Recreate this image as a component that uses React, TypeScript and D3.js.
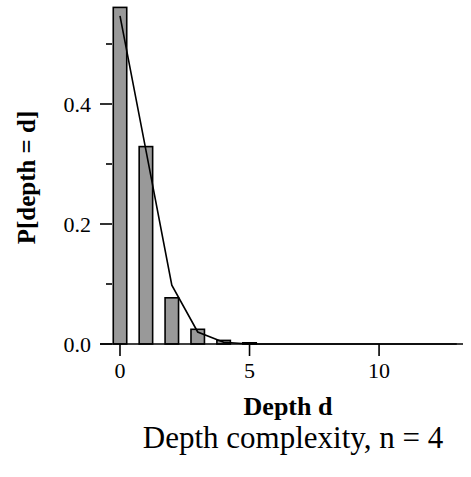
import React from "react";
import * as d3 from "d3";

const depths = [0, 1, 2, 3, 4, 5, 6, 7, 8, 9, 10, 11, 12, 13];
const observed = [0.561, 0.329, 0.077, 0.0245, 0.006, 0.002, 0, 0, 0, 0, 0, 0, 0, 0];
const model = [0.547, 0.323, 0.098, 0.02, 0.003, 0, 0, 0, 0, 0, 0, 0, 0, 0];
const xTicks = [0, 5, 10];
const yMajor = [0, 0.2, 0.4];
const yMinor = [0.1, 0.3, 0.5];

export default function App() {
  const W = 471, H = 477;
  const x = d3.scaleLinear().domain([-0.772, 13.24]).range([100, 463]);
  const y = d3.scaleLinear().domain([0, 0.5]).range([344, 44]);
  const bw = 0.52;
  const line = d3
    .line<number>()
    .x((_, i) => x(depths[i]))
    .y((v) => y(v));
  const serif = "'Liberation Serif', 'Times New Roman', serif";
  return (
    <svg
      width={W}
      height={H}
      style={{ position: "absolute", left: 0, top: 0, background: "#fff" }}
      fontFamily={serif}
    >
      <rect width={W} height={H} fill="#fff" />
      {depths.map((d, i) => (
        <rect
          key={d}
          x={x(d - bw / 2)}
          width={x(d + bw / 2) - x(d - bw / 2)}
          y={y(observed[i])}
          height={y(0) - y(observed[i])}
          fill="#999999"
          stroke="#000"
          strokeWidth={1.6}
        />
      ))}
      <line x1={x.range()[0]} x2={x.range()[1]} y1={y(0)} y2={y(0)} stroke="#000" strokeWidth={1.6} />
      <path d={line(model) || ""} fill="none" stroke="#000" strokeWidth={1.6} />
      {xTicks.map((t) => (
        <g key={t}>
          <line x1={x(t)} x2={x(t)} y1={y(0)} y2={y(0) + 12} stroke="#000" strokeWidth={1.6} />
          <text x={x(t)} y={378} textAnchor="middle" fontSize={22}>
            {t}
          </text>
        </g>
      ))}
      {yMajor.map((t) => (
        <g key={t}>
          <line x1={100} x2={112} y1={y(t)} y2={y(t)} stroke="#000" strokeWidth={1.6} />
          <text x={91} y={y(t)} dy="0.36em" textAnchor="end" fontSize={22}>
            {t.toFixed(1)}
          </text>
        </g>
      ))}
      {yMinor.map((t) => (
        <line key={t} x1={106} x2={112} y1={y(t)} y2={y(t)} stroke="#000" strokeWidth={1.6} />
      ))}
      <text
        transform="translate(35,177.5) rotate(-90)"
        textAnchor="middle"
        fontSize={25}
        fontWeight="bold"
      >
        P[depth = d]
      </text>
      <text x={288} y={415} textAnchor="middle" fontSize={26} fontWeight="bold">
        Depth d
      </text>
      <text x={293} y={448} textAnchor="middle" fontSize={31}>
        Depth complexity, n = 4
      </text>
    </svg>
  );
}
